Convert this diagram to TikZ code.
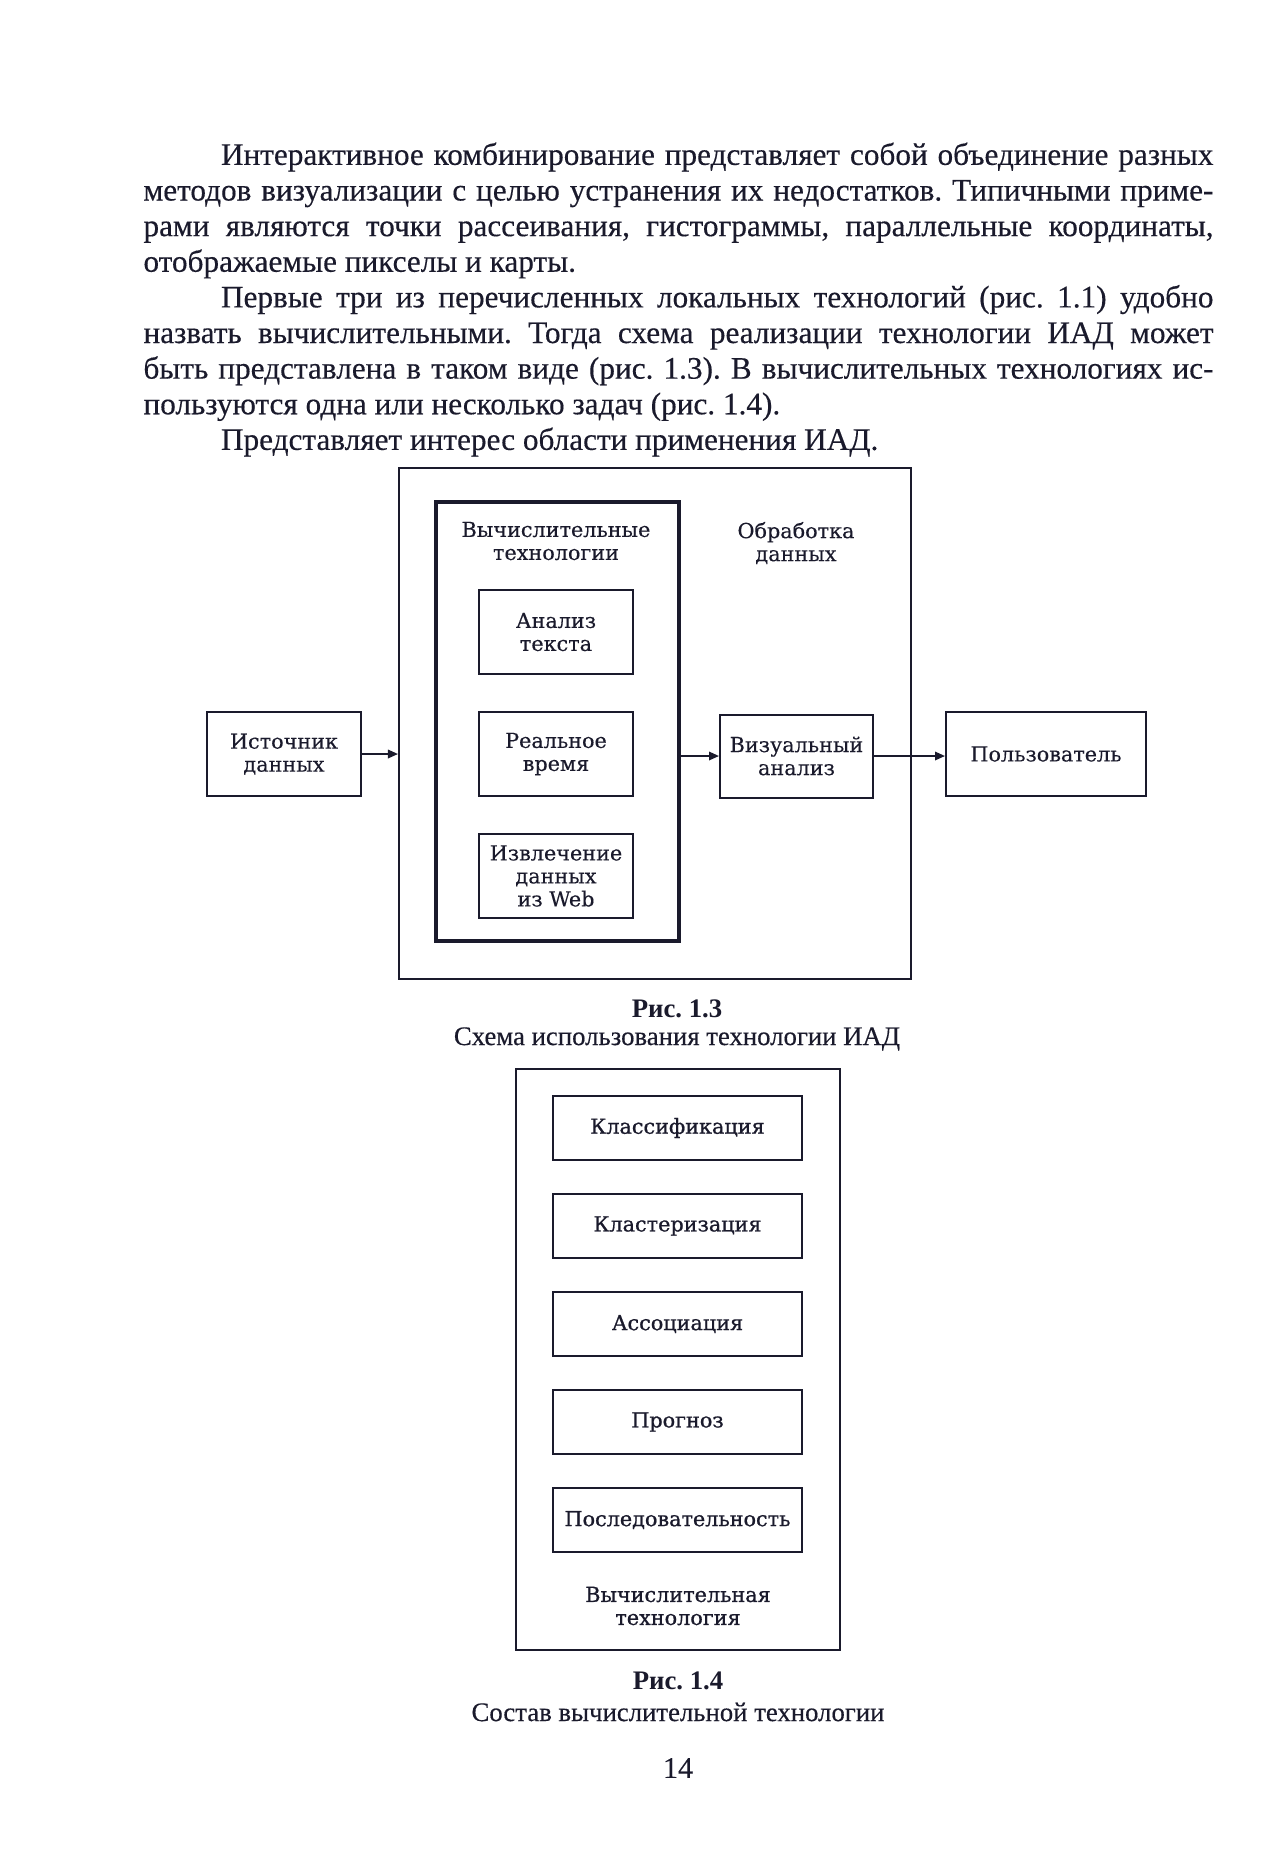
\documentclass[tikz,border=0pt]{standalone}
\usepackage{fontspec}
\setmainfont[UprightFeatures={FakeBold=0.35}]{Liberation Serif}
\newfontfamily\figfont[FakeBold=0.3]{DejaVu Serif}
\newfontfamily\taskfont[FakeBold=0.9]{DejaVu Serif}
\usepackage{xcolor}
\usepackage{tikz}
\usetikzlibrary{positioning, arrows.meta}
\definecolor{inkblue}{HTML}{1A1A2C}
\frenchspacing

\begin{document}
\begin{tikzpicture}[x=0.4pt, y=-0.4pt,
    every node/.style={text=inkblue},
    box/.style={draw=inkblue, line width=0.8pt, inner sep=0pt, align=center,
      font=\figfont\fontsize{8.3}{9.2}\selectfont},
    taskbox/.style={box, minimum width=99.6pt, minimum height=25.6pt,
      font=\taskfont\fontsize{8.3}{9.2}\selectfont},
    figlabel/.style={inner sep=0pt, align=center, font=\figfont\fontsize{8.3}{9.2}\selectfont},
    caption/.style={font=\fontsize{10.7}{12}\selectfont},
    flow/.style={draw=inkblue, line width=0.7pt, -{Triangle[length=4pt, width=3.4pt]}}]
  \fill[white] (0,0) rectangle (1282,1869);
  \useasboundingbox (0,0) rectangle (1282,1869);

  % text above the figures
  \node[anchor=north west, inner sep=0pt, text width=428pt, align=justify,
        font=\fontsize{12.5}{14.25}\selectfont] (tekst) at (143,142) {%
    \hspace*{31pt}Интерактивное комбинирование представляет собой объединение разных\linebreak
    методов визуализации с целью устранения их недостатков. Типичными приме-\linebreak
    рами являются точки рассеивания, гистограммы, параллельные координаты,\linebreak
    отображаемые пикселы и карты.\par
    \hspace*{31pt}Первые три из перечисленных локальных технологий (рис.~1.1) удобно\linebreak
    назвать вычислительными. Тогда схема реализации технологии ИАД может\linebreak
    быть представлена в таком виде (рис.~1.3). В вычислительных технологиях ис-\linebreak
    пользуются одна или несколько задач (рис.~1.4).\par
    \hspace*{31pt}Представляет интерес области применения ИАД.};

  % fig 1.3
  \node[box, minimum width=204.8pt, minimum height=204.4pt] (obrabotka) at (655,723.5) {};
  \node[box, line width=1.8pt, minimum width=97.2pt, minimum height=175.6pt] (vychtech) at (557.5,721.5) {};
  \node[figlabel] (vychtechname) at (556,541) {Вычислительные\\технологии};
  \node[figlabel] (obrabotkaname) at (796,543) {Обработка\\данных};
  \node[box, minimum width=61.6pt, minimum height=33.6pt] (analiz) at (556,632) {Анализ\\текста};
  \node[box, minimum width=61.6pt, minimum height=33.6pt] (realtime) at (556,754) {Реальное\\время};
  \node[box, minimum width=61.6pt, minimum height=33.6pt] (izvlech) at (556,876) {Извлечение\\данных\\из Web};
  \node[box, minimum width=61.6pt, minimum height=33.6pt] (istochnik) at (284,754) {Источник\\данных};
  \node[box, minimum width=61.2pt, minimum height=33.2pt] (vizual) at (796.5,756) {Визуальный\\анализ};
  \node[box, minimum width=80pt, minimum height=33.6pt] (polzovatel) at (1046,754) {Пользователь};
  \draw[flow] (istochnik.east) -- (istochnik.east -| obrabotka.west);
  \draw[flow] (vizual.west -| vychtech.east) -- (vizual.west);
  \draw[flow] (vizual.east) -- (vizual.east -| polzovatel.west);
  \node[caption, font=\bfseries\fontsize{10.7}{12}\selectfont] (ris13) at (677,1009) {Рис. 1.3};
  \node[caption] (ris13name) at (677,1039) {Схема использования технологии ИАД};

  % fig 1.4
  \node[box, minimum width=129.6pt, minimum height=232.4pt] (sostav) at (678,1359.5) {};
  \foreach \zadacha [count=\i from 0] in {Классификация, Кластеризация, Ассоциация, Прогноз, Последовательность}
    \node[taskbox] (zadacha\i) at (677.5,1128+98*\i) {\zadacha};
  \node[figlabel, font=\taskfont\fontsize{8.3}{9.2}\selectfont] (sostavname) at (678,1606) {Вычислительная\\технология};
  \node[caption, font=\bfseries\fontsize{10.7}{12}\selectfont] (ris14) at (678,1681) {Рис. 1.4};
  \node[caption] (ris14name) at (678,1712) {Состав вычислительной технологии};

  \node[font=\fontsize{12}{14}\selectfont] (stranica) at (678,1768) {14};
\end{tikzpicture}
\end{document}
